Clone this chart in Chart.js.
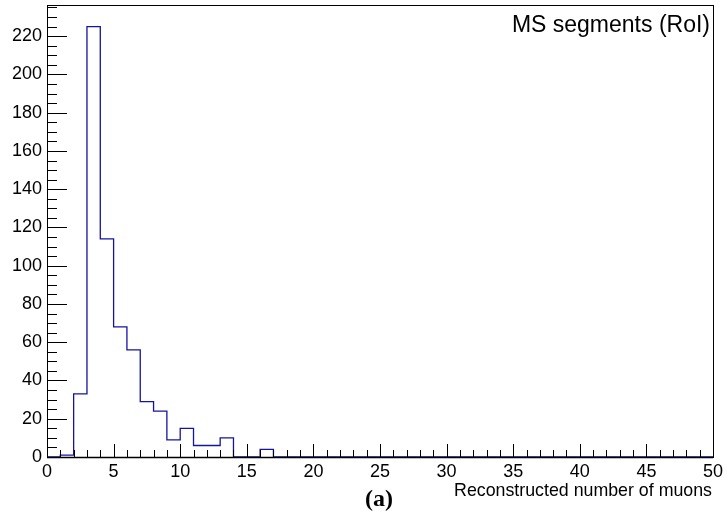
<!DOCTYPE html>
<html>
<head>
<meta charset="utf-8">
<script src="https://cdn.jsdelivr.net/npm/chart.js@4.4.1/dist/chart.umd.min.js"></script>
<style>
  html, body { margin: 0; padding: 0; background: #fff; }
  #wrap { width: 727px; height: 517px; }
</style>
</head>
<body>
<div id="wrap"><canvas id="histo" width="727" height="517"></canvas></div>
<script>
// Histogram: reconstructed number of muons, 1-unit bins from 0 to 50
const binWidth = 1;
const counts = [
  0, 1, 33, 225, 114, 68, 56, 29, 24, 9,
  15, 6, 6, 10, 0, 0, 4, 0, 0, 0,
  0, 0, 0, 0, 0, 0, 0, 0, 0, 0,
  0, 0, 0, 0, 0, 0, 0, 0, 0, 0,
  0, 0, 0, 0, 0, 0, 0, 0, 0, 0
];
const xTicks = [0, 5, 10, 15, 20, 25, 30, 35, 40, 45, 50];
const yTicks = [0, 20, 40, 60, 80, 100, 120, 140, 160, 180, 200, 220];
const yMax = 236.3;

const histTitle = 'MS segments (RoI)';
const xTitle = 'Reconstructed number of muons';
const panelLabel = '(a)';

// step outline: each bin is a point at its low edge, plus the last high edge
const stepPoints = counts.map((c, i) => ({ x: i * binWidth, y: c }));
stepPoints.push({ x: counts.length * binWidth, y: counts[counts.length - 1] });

const FONT = '"Liberation Sans", Arial, sans-serif';

// --- ROOT style frame, inward ticks and text ---
const rootFrame = {
  id: 'rootFrame',
  afterDraw(chart) {
    const { ctx, chartArea: a, scales } = chart;
    const xs = scales.x, ys = scales.y;
    ctx.save();
    ctx.strokeStyle = '#000';
    ctx.lineWidth = 1;

    // frame
    ctx.strokeRect(Math.round(a.left) + 0.5, Math.round(a.top) + 0.5,
      Math.round(a.right - a.left), Math.round(a.bottom - a.top));

    // x ticks (major every 5, minor every 1)
    ctx.beginPath();
    for (let v = 0; v <= 50; v++) {
      const px = Math.round(xs.getPixelForValue(v)) + 0.5;
      const len = v % 5 === 0 ? 13 : 7;
      ctx.moveTo(px, a.bottom);
      ctx.lineTo(px, a.bottom - len);
    }
    // y ticks (major every 20, minor every 5)
    for (let v = 0; v <= yMax; v += 5) {
      const py = Math.round(ys.getPixelForValue(v)) + 0.5;
      const len = v % 20 === 0 ? 20 : 10;
      ctx.moveTo(a.left, py);
      ctx.lineTo(a.left + len, py);
    }
    ctx.stroke();

    // axis line thicker at bottom
    ctx.beginPath();
    ctx.lineWidth = 1.5;
    ctx.moveTo(a.left, Math.round(a.bottom) + 0.5);
    ctx.lineTo(a.right, Math.round(a.bottom) + 0.5);
    ctx.stroke();

    // texts
    ctx.fillStyle = '#000';
    ctx.textBaseline = 'alphabetic';
    ctx.textAlign = 'right';
    ctx.font = '23px ' + FONT;
    ctx.fillText(histTitle, 710, 32);
    ctx.font = '17.8px ' + FONT;
    ctx.fillText(xTitle, 712, 496);
    ctx.textAlign = 'center';
    ctx.font = 'bold 24px "Liberation Serif", "DejaVu Serif", serif';
    ctx.fillText(panelLabel, 379, 506);
    ctx.restore();
  }
};

new Chart(document.getElementById('histo'), {
  type: 'line',
  data: {
    datasets: [{
      label: histTitle,
      data: stepPoints,
      stepped: 'before',
      borderColor: '#1414a0',
      borderWidth: 1.3,
      pointRadius: 0,
      fill: false,
      clip: false
    }]
  },
  options: {
    responsive: false,
    animation: false,
    devicePixelRatio: 1,
    layout: { padding: { top: 5, right: 14, left: 0, bottom: 0 } },
    plugins: {
      legend: { display: false },
      tooltip: { enabled: false }
    },
    scales: {
      x: {
        type: 'linear',
        min: 0,
        max: 50,
        grid: { display: false, drawTicks: false },
        border: { display: false },
        afterBuildTicks: s => { s.ticks = xTicks.map(v => ({ value: v })); },
        afterFit: s => { s.height = 60; s.paddingLeft = 0; s.paddingRight = 0; },
        ticks: {
          color: '#000',
          padding: 4,
          maxRotation: 0,
          autoSkip: false,
          font: { family: FONT, size: 18 },
          callback: v => String(v)
        }
      },
      y: {
        type: 'linear',
        min: 0,
        max: yMax,
        grid: { display: false, drawTicks: false },
        border: { display: false },
        afterBuildTicks: s => { s.ticks = yTicks.map(v => ({ value: v })); },
        afterFit: s => { s.width = 47; s.paddingTop = 0; s.paddingBottom = 0; },
        ticks: {
          color: '#000',
          padding: 5,
          autoSkip: false,
          font: { family: FONT, size: 18 },
          callback: v => String(v)
        }
      }
    }
  },
  plugins: [rootFrame]
});
</script>
</body>
</html>
